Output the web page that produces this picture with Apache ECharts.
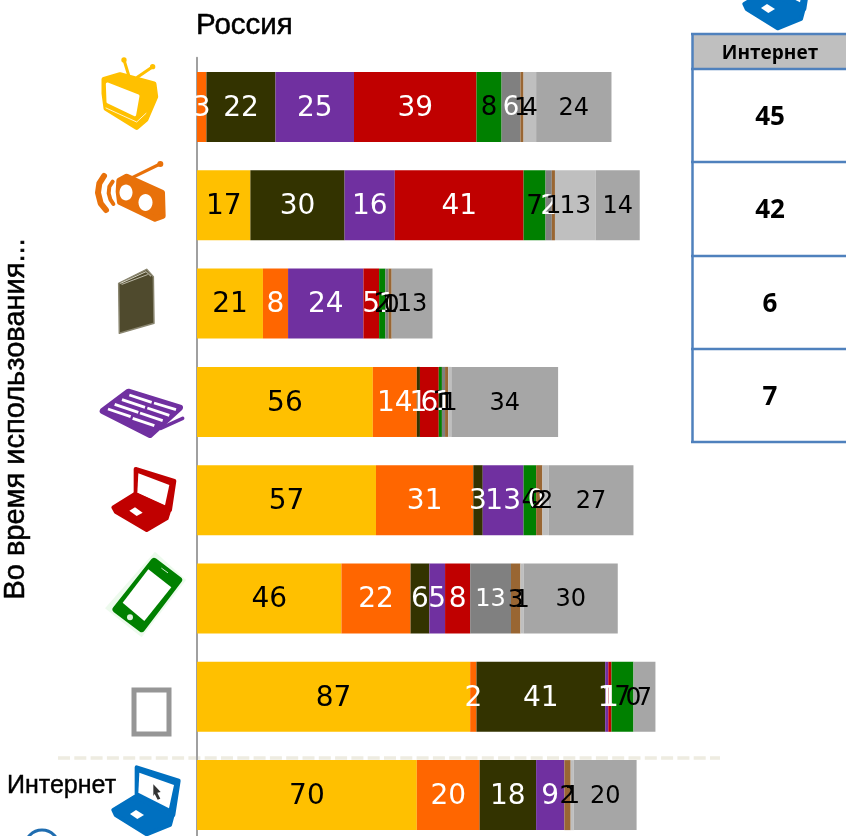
<!DOCTYPE html>
<html><head><meta charset="utf-8">
<style>html,body{margin:0;padding:0;background:#fff;overflow:hidden}#c{width:846px;height:836px}</style>
<script src="https://cdn.jsdelivr.net/npm/echarts@6/dist/echarts.min.js"></script>
</head><body><div id="c"></div>
<script>
// Values by device row; null = no segment and no label, 0 = labelled zero
const categories = ['ТВ','Радио','Книга','Журнал','Ноутбук','Смартфон','Планшет','Интернет'];
const seriesNames = ['s1','s2','s3','s4','s5','s6','s7','s8','s9','s10'];
const seriesColors = ['#FFC000','#FF6600','#333300','#7030A0','#C00000','#008000','#808080','#996633','#BFBFBF','#A6A6A6'];
const labelColors = ['#000','#fff','#fff','#fff','#fff','#000','#fff','#000','#000','#000'];
const labelSizes = [28,28,28,28,28,26,26,25,25,24];
const rowTV       = [null,3,22,25,39,8,6,1,4,24];
const rowRadio    = [17,null,30,16,41,7,2,1,13,14];
const rowBook     = [21,8,null,24,5,2,1,1,0,13];
const rowMagazine = [56,14,1,null,6,1,1,1,1,34];
const rowLaptop   = [57,31,3,13,null,4,0,2,2,27];
const rowPhone    = [46,22,6,5,8,null,13,3,1,30];
const rowTablet   = [87,2,41,1,1,7,null,null,0,7];
const rowInternet = [70,20,18,9,null,null,null,2,1,20];
const tableHeader = 'Интернет';
const tableValues = [45,42,6,7];
const titleText = 'Россия';
const yTitleText = 'Во время использования...';
const internetLabel = 'Интернет';

const rows = [rowTV,rowRadio,rowBook,rowMagazine,rowLaptop,rowPhone,rowTablet,rowInternet];
const series = seriesNames.map((n,i)=>({
  name:n, type:'bar', stack:'a', barWidth:70,
  itemStyle:{color:seriesColors[i]},
  label:{show:true,position:'inside',offset:[0,1.5],fontFamily:'DejaVu Sans',fontSize:labelSizes[i],color:labelColors[i]},
  data:rows.map(r=>{
    const v=r[i];
    if(r===rowPhone && i===6) return {value:v,label:{fontSize:24}};
    return v===null?'-':v;
  }),
  animation:false, silent:true
}));

// --- decorative pictograms (zoom coordinates: 3x, with offset)
const g=[];
const P=(pts,ox,oy)=>pts.map(p=>[p[0]/3+ox,p[1]/3+oy]);
function poly(pts,ox,oy,fill,sw,stroke){g.push({type:'polygon',silent:true,shape:{points:P(pts,ox,oy)},style:{fill:fill,stroke:stroke||fill,lineWidth:sw===undefined?1.5:sw,lineJoin:'round'}});}
function line(pts,ox,oy,stroke,w,cap){g.push({type:'polyline',silent:true,shape:{points:P(pts,ox,oy)},style:{fill:'none',stroke:stroke,lineWidth:w,lineCap:cap||'round',lineJoin:'round'}});}
function dot(x,y,r,ox,oy,fill){g.push({type:'circle',silent:true,shape:{cx:x/3+ox,cy:y/3+oy,r:r/3},style:{fill:fill}});}

// TV
const tvc='#FFC000';
line([[372,180],[388,232]],0,0,tvc,3); line([[458,200],[412,232]],0,0,tvc,3);
dot(372,180,8,0,0,tvc); dot(458,200,8,0,0,tvc);
poly([[312,238],[360,224],[462,252],[467,290],[438,358],[410,382],[318,325],[312,280]],0,0,tvc,5);
poly([[322,252],[414,288],[404,344],[324,306]],0,0,'#fff',3);
line([[318,324],[410,366],[438,340]],0,0,'#fff',0.8);
// Radio
const rc='#E8710A';
line([[398,532],[480,492]],0,0,rc,3.2); dot(481,492,9,0,0,rc);
poly([[358,542],[380,530],[486,578],[488,648],[465,656],[360,606],[356,575]],0,0,rc,6);
g.push({type:'ellipse',silent:true,shape:{cx:126,cy:192.5,rx:6.5,ry:8},style:{fill:'#fff'}});
g.push({type:'ellipse',silent:true,shape:{cx:145.5,cy:202.5,rx:7,ry:8.5},style:{fill:'#fff'}});
line([[312,528],[298,550],[294,578],[302,610],[318,630]],0,0,rc,6);
line([[338,545],[328,560],[326,580],[331,598],[340,612]],0,0,rc,4);
// Book
poly([[356,850],[440,808],[460,830],[462,970],[358,1000]],0,0,'#4F4A2D',1.5,'#8a8670');
line([[362,850],[438,815],[452,828]],0,0,'#d8d6c8',1);
line([[366,853],[442,824]],0,0,'#d8d6c8',0.8);
// Magazine / tablet
const mc='#7030A0';
poly([[38,108],[115,50],[270,98],[180,180]],90,375,mc,6);
line([[212,160],[278,130]],90,375,mc,3.5);
[[[118,60],[185,82]],[[96,74],[165,97]],[[74,88],[145,112]],[[54,102],[122,125]],
 [[192,84],[258,104]],[[172,99],[238,121]],[[150,114],[218,137]],[[128,130],[193,152]]].forEach(s=>line(s,90,375,'#fff',2.8,'butt'));
// Laptops
function laptop(c,ox,oy){
  poly([[407,147],[523,183],[510,270],[407,222]],ox,oy,c,4);
  poly([[415,160],[508,195],[495,256],[412,218]],ox,oy,'#fff',0);
  poly([[340,262],[405,222],[508,270],[500,295],[440,330],[347,275]],ox,oy,c,4);
  poly([[388,272],[405,262],[428,278],[410,288]],ox,oy,'#fff',0);
}
laptop('#C00000',0,420);
// Phone
poly([[465,395],[558,480],[425,652],[315,565]],0,420,'#EDFAED',0);
poly([[462,424],[536,480],[425,626],[348,568]],0,420,'#008000',7);
poly([[445,448],[514,502],[433,603],[368,548]],0,420,'#fff',0);
dot(390,592,9,0,420,'#dff3df'); line([[485,445],[503,458]],0,420,'#cfeccf',1);
// Frame tablet
g.push({type:'rect',silent:true,shape:{x:134,y:690,width:35,height:44},style:{fill:'#fff',stroke:'#969696',lineWidth:5}});
// Blue laptops
function blue(ox,oy){
  const c='#0070C0';
  poly([[410,52],[536,92],[520,195],[410,140]],ox,oy,c,4);
  poly([[418,68],[522,105],[507,175],[415,128]],ox,oy,'#fff',0);
  poly([[460,103],[482,126],[472,128],[481,146],[473,149],[464,132],[460,138]],ox,oy,'#333',0);
  poly([[340,180],[405,140],[518,195],[510,225],[440,253],[347,195]],ox,oy,c,4);
  poly([[390,192],[408,180],[432,195],[412,207]],ox,oy,'#fff',0);
}
blue(0,750); blue(631,-56);
// Globe fragment
g.push({type:'circle',silent:true,shape:{cx:42,cy:847,r:17},style:{fill:'none',stroke:'#1F6DB0',lineWidth:3}});

// Separator
g.push({type:'line',silent:true,shape:{x1:58,y1:758,x2:720,y2:758},style:{stroke:'#EEECE1',lineWidth:3.5,lineDash:[12,4.3]}});

// Texts
g.push({type:'text',silent:true,x:16,y:419,rotation:Math.PI/2,style:{text:yTitleText,font:'29px "Liberation Sans"',fill:'#000',stroke:'#000',lineWidth:0.5,align:'center',verticalAlign:'middle'}});
g.push({type:'text',silent:true,x:7,y:786,style:{text:internetLabel,font:'25px "Liberation Sans"',fill:'#000',stroke:'#000',lineWidth:0.4,align:'left',verticalAlign:'middle'}});
g.push({type:'text',silent:true,x:196,y:26,style:{text:titleText,font:'29.5px "Liberation Sans"',fill:'#000',stroke:'#000',lineWidth:0.5,align:'left',verticalAlign:'middle'}});

// Table
const bc='#4F81BD';
g.push({type:'rect',silent:true,shape:{x:692,y:34,width:160,height:35},style:{fill:'#BFBFBF'}});
[34,69,162,256,349,442].forEach(y=>g.push({type:'line',silent:true,shape:{x1:691,y1:y,x2:846,y2:y},style:{stroke:bc,lineWidth:2.5}}));
g.push({type:'line',silent:true,shape:{x1:692.5,y1:33,x2:692.5,y2:443},style:{stroke:bc,lineWidth:2.5}});
g.push({type:'text',silent:true,x:770,y:53.5,style:{text:tableHeader,font:'bold 19px "Open Sans"',fill:'#000',align:'center',verticalAlign:'middle'}});
[118,211,305,398].forEach((y,i)=>g.push({type:'text',silent:true,x:770,y:y,style:{text:String(tableValues[i]),font:'bold 26px "Open Sans"',fill:'#000',align:'center',verticalAlign:'middle'}}));

const chart=echarts.init(document.getElementById('c'),null,{renderer:'canvas'});
chart.setOption({
  animation:false,
  backgroundColor:'#fff',
  tooltip:{show:false},
  grid:{left:197,top:57.85,width:628,height:786.4,containLabel:false,outerBoundsMode:'none'},
  xAxis:{type:'value',min:0,max:200,show:false},
  yAxis:{type:'category',inverse:true,data:categories,axisLine:{show:true,onZero:false,lineStyle:{color:'#A0A0A0',width:2}},axisTick:{show:false},axisLabel:{show:false},splitLine:{show:false}},
  series:series,
  graphic:{elements:g}
});
</script></body></html>
